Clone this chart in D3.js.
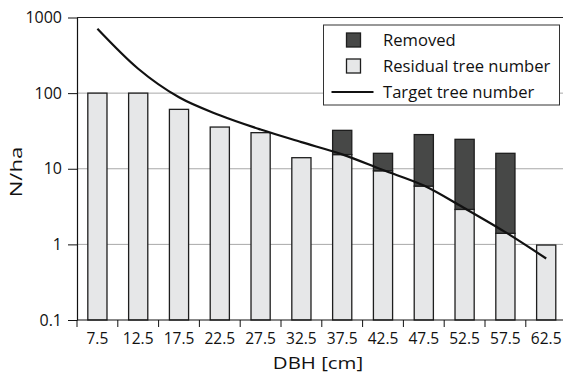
<!DOCTYPE html>
<html>
<head>
<meta charset="utf-8">
<script src="https://cdn.jsdelivr.net/npm/d3@7"></script>
<style>
  html, body { margin: 0; padding: 0; background: #fff; }
  svg { display: block; font-family: "Open Sans", sans-serif; }
</style>
</head>
<body>
<svg id="chart" width="563" height="375"></svg>
<script>
// Diameter classes (cm)
const dbhClasses = ["7.5", "12.5", "17.5", "22.5", "27.5", "32.5", "37.5", "42.5", "47.5", "52.5", "57.5", "62.5"];
// Trees per hectare remaining after harvest
const residual = [100, 100, 61, 35.6, 30, 14, 15.4, 9.4, 5.9, 2.9, 1.4, 0.98];
// Trees per hectare harvested (stacked on top of residual)
const removed = [0, 0, 0, 0, 0, 0, 16.8, 6.6, 22.4, 21.6, 14.6, 0];
// Target distribution
const target = [710, 210, 88, 51, 33, 22.5, 15.5, 9.6, 6.0, 3.0, 1.45, 0.65];
// Y tick values and labels
const yTicks = [0.1, 1, 10, 100, 1000];
const yTickLabels = ["0.1", "1", "10", "100", "1000"];

const svg = d3.select("#chart");
const margin = { left: 77, top: 17.5, bottom: 320 };
const plotRight = 566.6;

const x = d3.scaleBand().domain(dbhClasses).range([margin.left, plotRight]).paddingInner(0.53).paddingOuter(0.265);
const xEdges = d3.scaleLinear().domain([0, dbhClasses.length]).range([margin.left, plotRight]);
const y = d3.scaleLog().domain([0.1, 1000]).range([margin.bottom, margin.top]);

// Horizontal gridlines
svg.append("g")
  .selectAll("line")
  .data(yTicks.filter(v => v > 0.1 && v < 1000))
  .join("line")
  .attr("x1", margin.left).attr("x2", 563)
  .attr("y1", d => y(d)).attr("y2", d => y(d))
  .attr("stroke", "#a8a8a8").attr("stroke-width", 1);

// Top frame line
svg.append("line")
  .attr("x1", margin.left).attr("x2", 563)
  .attr("y1", y(1000)).attr("y2", y(1000))
  .attr("stroke", "#222").attr("stroke-width", 1);

// Bars: residual (light) and removed (dark) stacked
const bars = dbhClasses.map((c, i) => ({ c, res: residual[i], rem: removed[i] }));
const barG = svg.append("g");
barG.selectAll("rect.res")
  .data(bars)
  .join("rect")
  .attr("class", "res")
  .attr("x", d => x(d.c))
  .attr("width", x.bandwidth())
  .attr("y", d => y(d.res))
  .attr("height", d => y(0.1) - y(d.res))
  .attr("fill", "#e6e7e8")
  .attr("stroke", "#1e1e1e")
  .attr("stroke-width", 1.3);
barG.selectAll("rect.rem")
  .data(bars.filter(d => d.rem > 0))
  .join("rect")
  .attr("class", "rem")
  .attr("x", d => x(d.c))
  .attr("width", x.bandwidth())
  .attr("y", d => y(d.res + d.rem))
  .attr("height", d => y(d.res) - y(d.res + d.rem))
  .attr("fill", "#474847")
  .attr("stroke", "#1e1e1e")
  .attr("stroke-width", 1.3);

// Target curve
const line = d3.line()
  .x((d, i) => x(dbhClasses[i]) + x.bandwidth() / 2)
  .y(d => y(d))
  .curve(d3.curveMonotoneX);
svg.append("path")
  .datum(target)
  .attr("d", line)
  .attr("fill", "none")
  .attr("stroke", "#111")
  .attr("stroke-width", 2.2);

// Y axis
const yAxis = d3.axisLeft(y)
  .tickValues(yTicks)
  .tickFormat((d, i) => yTickLabels[i])
  .tickSize(9)
  .tickSizeOuter(0)
  .tickPadding(6);
const yg = svg.append("g").attr("transform", `translate(${margin.left},0)`).call(yAxis);
yg.select(".domain").attr("stroke", "#111").attr("stroke-width", 1.2);
yg.selectAll(".tick line").attr("stroke", "#111");
yg.selectAll("text").attr("font-size", 16).attr("fill", "#111").attr("font-family", "Open Sans");

// X axis: tick marks at class boundaries, labels centred under bars
const xg = svg.append("g");
xg.append("line")
  .attr("x1", margin.left).attr("x2", 563)
  .attr("y1", margin.bottom).attr("y2", margin.bottom)
  .attr("stroke", "#111").attr("stroke-width", 1.2);
xg.selectAll("line.tk")
  .data(d3.range(0, dbhClasses.length + 1))
  .join("line")
  .attr("class", "tk")
  .attr("x1", d => xEdges(d)).attr("x2", d => xEdges(d))
  .attr("y1", margin.bottom).attr("y2", margin.bottom + 7)
  .attr("stroke", "#111");
xg.selectAll("text")
  .data(dbhClasses)
  .join("text")
  .attr("x", d => x(d) + x.bandwidth() / 2)
  .attr("y", 344)
  .attr("text-anchor", "middle")
  .attr("font-size", 15.5)
  .attr("fill", "#111")
  .text(d => d);

// Axis titles (set slightly wide)
svg.append("text")
  .attr("transform", "translate(318,369) scale(1.2,1)")
  .attr("text-anchor", "middle")
  .attr("font-size", 17)
  .attr("fill", "#111")
  .text("DBH [cm]");
svg.append("text")
  .attr("transform", "translate(22,172) rotate(-90) scale(1.3,1)")
  .attr("text-anchor", "middle")
  .attr("font-size", 17)
  .attr("fill", "#111")
  .text("N/ha");

// Legend
const lg = svg.append("g");
lg.append("rect")
  .attr("x", 323.5).attr("y", 25).attr("width", 236).attr("height", 80)
  .attr("fill", "#fff").attr("stroke", "#333").attr("stroke-width", 1);
const legendItems = [
  { label: "Removed", type: "box", fill: "#474847" },
  { label: "Residual tree number", type: "box", fill: "#e6e7e8" },
  { label: "Target tree number", type: "line" }
];
legendItems.forEach((it, i) => {
  const cy = 40 + i * 26;
  if (it.type === "box") {
    lg.append("rect")
      .attr("x", 346.5).attr("y", cy - 7).attr("width", 14).attr("height", 14)
      .attr("fill", it.fill).attr("stroke", "#1e1e1e").attr("stroke-width", 1.3);
  } else {
    lg.append("line")
      .attr("x1", 331.5).attr("x2", 373.5).attr("y1", cy).attr("y2", cy)
      .attr("stroke", "#111").attr("stroke-width", 2.2);
  }
  lg.append("text")
    .attr("x", 383).attr("y", cy + 6)
    .attr("font-size", 16.6)
    .attr("fill", "#111")
    .text(it.label);
});
</script>
</body>
</html>
